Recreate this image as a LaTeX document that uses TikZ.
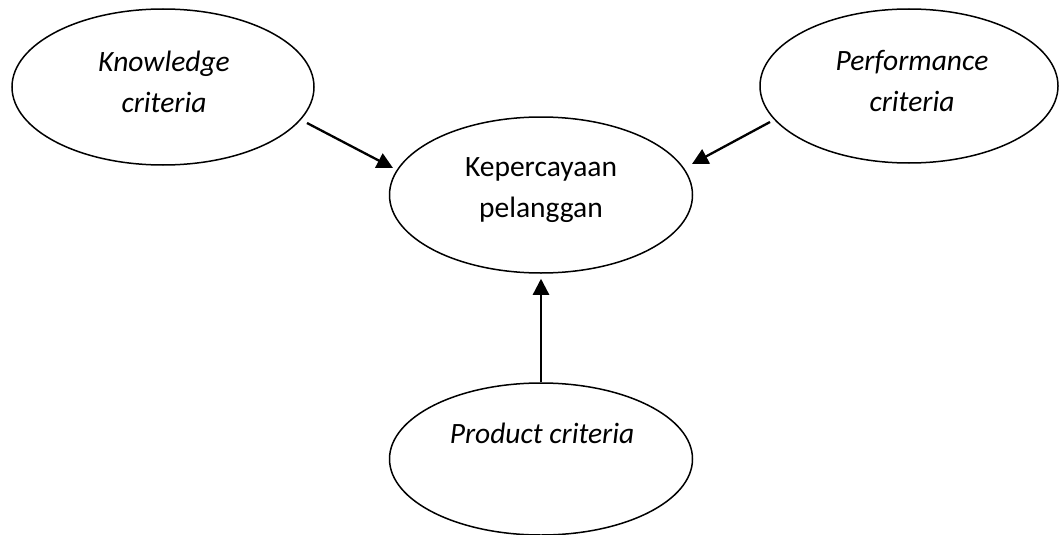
\documentclass[tikz,border=0pt]{standalone}
\usepackage{fontspec}
\setmainfont{Carlito}
\usetikzlibrary{shapes.geometric,arrows.meta}
\tikzset{
  oval/.style={draw, ellipse, line width=1.5pt, inner sep=0pt,
    minimum width=#1},
  lbl/.style={inner sep=0pt, align=center,
    font=\fontsize{29.5}{41}\selectfont},
  arr/.style={line width=2.3pt, -{Triangle[length=16pt,width=16pt]}},
}
\begin{document}
\begin{tikzpicture}[x=1pt, y=-1pt]
\useasboundingbox[fill=white] (0,0) rectangle (1060,535);

% ovals
\node[oval=302pt, minimum height=156pt] (k) at (163,87) {};
\node[oval=298pt, minimum height=154pt] (p) at (909,86) {};
\node[oval=303pt, minimum height=156pt] (c) at (541,195) {};
\node[oval=303pt, minimum height=152pt] (r) at (541,459) {};

% texts
\node[lbl] (kt) at (164,82) {\itshape Knowledge\\\itshape criteria};
\node[lbl] (pt) at (912,81) {\itshape Performance\\\itshape criteria};
\node[lbl] (ct) at (541,190) {Kepercayaan\\pelanggan};
\node[lbl] (rt) at (542,433) {\itshape Product criteria};

% arrows into the central oval
\draw[arr] ([shift={(144,36)}]k.center) -- ([shift={(-148,-27)}]c.center);
\draw[arr] ([shift={(-139,36)}]p.center) -- ([shift={(151,-31)}]c.center);
\draw[arr] (r.north) -- ([shift={(0,5)}]c.south);
\end{tikzpicture}
\end{document}
